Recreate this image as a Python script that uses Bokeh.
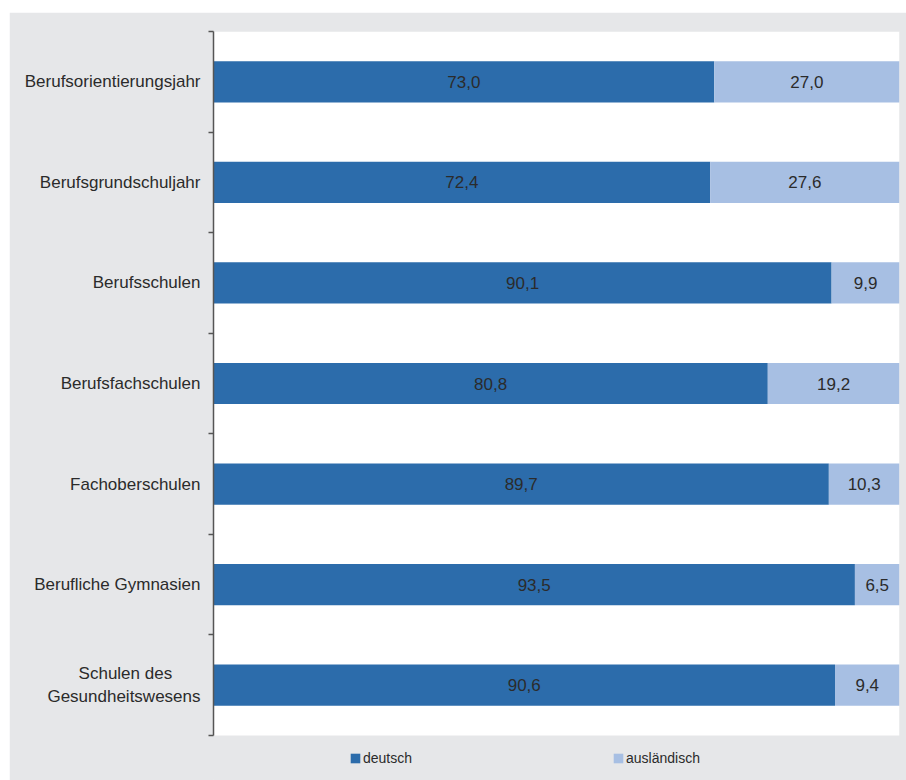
from bokeh.plotting import figure
from bokeh.models import Range1d, FixedTicker, ColumnDataSource, Legend, LegendItem
from bokeh.core.properties import value
from bokeh.embed import file_html
from bokeh.resources import INLINE

categories = ["Berufsorientierungsjahr", "Berufsgrundschuljahr", "Berufsschulen",
              "Berufsfachschulen", "Fachoberschulen", "Berufliche Gymnasien",
              "Schulen des\nGesundheitswesens"]
deutsch = [73.0, 72.4, 90.1, 80.8, 89.7, 93.5, 90.6]
auslaendisch = [27.0, 27.6, 9.9, 19.2, 10.3, 6.5, 9.4]
series_names = ["deutsch", "ausländisch"]

DARK = "#2c6cab"
LIGHT = "#a7bfe3"
BG = "#e6e7e9"
TXT = "#2b2b2b"
AXC = "#555555"
FONT = "Liberation Sans"

n = len(categories)
ypos = [i + 0.5 for i in range(n)]
pad = n * 45 / 704  # room under the bars for the legend (45px of 704px)

# visually centre the lines of two-line labels (axis labels are right-aligned)
def centred(label):
    lines = label.split("\n")
    if len(lines) == 1:
        return label
    longest = max(len(l) for l in lines)
    return "\n".join(l + "\u00a0" * (longest - len(l)) for l in lines)

display_labels = [centred(c) for c in categories]

src = ColumnDataSource(dict(
    y=ypos,
    d_end=deutsch,
    a_end=[d + a for d, a in zip(deutsch, auslaendisch)],
    zero=[0] * n,
    d_mid=[d / 2 for d in deutsch],
    a_mid=[d + a / 2 for d, a in zip(deutsch, auslaendisch)],
    d_lbl=[f"{v:.1f}".replace(".", ",") for v in deutsch],
    a_lbl=[f"{v:.1f}".replace(".", ",") for v in auslaendisch],
))

p = figure(width=897, height=768, output_backend="svg", toolbar_location=None,
           x_range=Range1d(0, 100), y_range=Range1d(n + pad, 0),
           min_border_left=204, min_border_right=7, min_border_top=19, min_border_bottom=0)
p.styles = {"margin-left": "9px", "margin-top": "12px"}
p.background_fill_color = BG
p.border_fill_color = BG
p.outline_line_color = BG
p.outline_line_width = 1
p.grid.visible = False
p.xaxis.visible = False

# white plotting area behind the bars
p.quad(left=0, right=100, top=0, bottom=n, fill_color="white", line_color=None)

r1 = p.hbar(y="y", left="zero", right="d_end", height=0.41, source=src,
            fill_color=DARK, line_color=None)
r2 = p.hbar(y="y", left="d_end", right="a_end", height=0.41, source=src,
            fill_color=LIGHT, line_color=None)

p.text(x="d_mid", y="y", text="d_lbl", source=src, text_align="center",
       text_baseline="middle", text_font=value(FONT), text_font_size="17px", text_color=TXT)
p.text(x="a_mid", y="y", text="a_lbl", source=src, text_align="center",
       text_baseline="middle", text_font=value(FONT), text_font_size="17px", text_color=TXT)

ax = p.yaxis[0]
ax.bounds = (0, n)
ax.ticker = FixedTicker(ticks=ypos, minor_ticks=list(range(n + 1)))
ax.major_label_overrides = {y: c for y, c in zip(ypos, display_labels)}
ax.major_tick_out = 0
ax.major_tick_in = 0
ax.minor_tick_out = 5
ax.minor_tick_in = 0
ax.minor_tick_line_color = AXC
ax.minor_tick_line_width = 1.5
ax.axis_line_color = AXC
ax.axis_line_width = 1.5
ax.major_label_standoff = 8
ax.major_label_text_font = FONT
ax.major_label_text_font_size = "17px"
ax.major_label_text_color = TXT

legend = Legend(items=[LegendItem(label=series_names[0], renderers=[r1]),
                       LegendItem(label=series_names[1], renderers=[r2])],
                orientation="horizontal", location=(136, 12),
                background_fill_alpha=0, border_line_color=None,
                margin=0, padding=0, spacing=200,
                glyph_width=12, glyph_height=12, label_height=20, label_standoff=2,
                label_text_font=FONT, label_text_font_size="14px", label_text_color=TXT)
p.add_layout(legend)

open("out.html", "w").write(file_html(p, INLINE))
